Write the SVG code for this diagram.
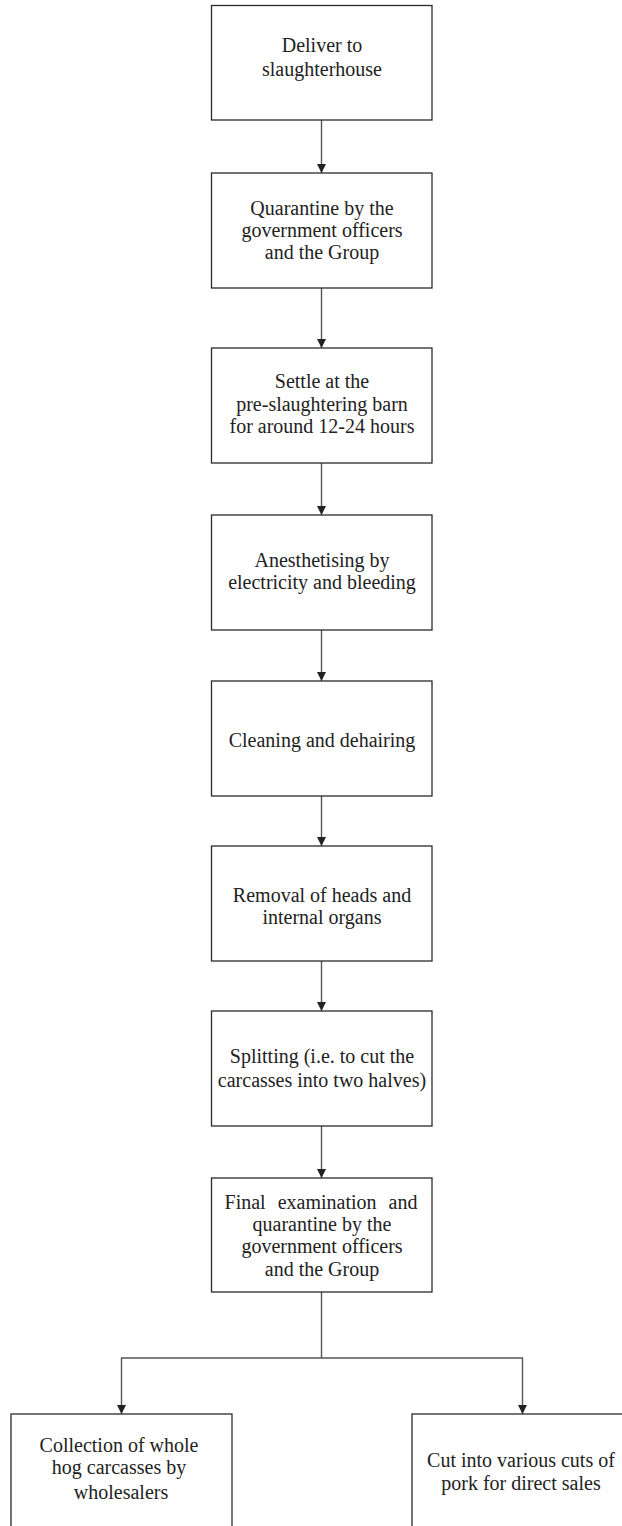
<svg xmlns="http://www.w3.org/2000/svg" width="622" height="1526" viewBox="0 0 622 1526">
<style>
.box{fill:#fff;stroke:#2a2a2a;stroke-width:1.3}
.t{font-family:"Liberation Serif","Times New Roman",serif;font-size:20px;fill:#222;text-anchor:middle}
.c{fill:none;stroke:#555;stroke-width:1.4}
</style>
<defs>
<marker id="ah" markerUnits="userSpaceOnUse" markerWidth="10" markerHeight="10" refX="9" refY="5" orient="auto">
<path d="M0,0.5 L9,5 L0,9.5 z" fill="#222"/>
</marker>
</defs>
<rect width="622" height="1526" fill="#fff"/>
<g id="connectors">
<line class="c" x1="321.5" y1="120" x2="321.5" y2="173" marker-end="url(#ah)"/>
<line class="c" x1="321.5" y1="288" x2="321.5" y2="348" marker-end="url(#ah)"/>
<line class="c" x1="321.5" y1="463" x2="321.5" y2="515" marker-end="url(#ah)"/>
<line class="c" x1="321.5" y1="630" x2="321.5" y2="681" marker-end="url(#ah)"/>
<line class="c" x1="321.5" y1="796" x2="321.5" y2="846" marker-end="url(#ah)"/>
<line class="c" x1="321.5" y1="961" x2="321.5" y2="1011" marker-end="url(#ah)"/>
<line class="c" x1="321.5" y1="1126" x2="321.5" y2="1178" marker-end="url(#ah)"/>
<line class="c" x1="321.5" y1="1292" x2="321.5" y2="1358"/>
<polyline class="c" points="321.5,1358 121.5,1358 121.5,1414" marker-end="url(#ah)"/>
<polyline class="c" points="321.5,1358 522.5,1358 522.5,1414" marker-end="url(#ah)"/>
</g>
<g id="n1"><rect class="box" x="211.5" y="5.5" width="220.5" height="114.5"/>
<text class="t" x="322" y="52">Deliver to</text><text class="t" x="322" y="76">slaughterhouse</text></g>
<g id="n2"><rect class="box" x="211.5" y="173" width="220.5" height="115"/>
<text class="t" x="322" y="215">Quarantine by the</text><text class="t" x="322" y="237">government officers</text><text class="t" x="322" y="259">and the Group</text></g>
<g id="n3"><rect class="box" x="211.5" y="348" width="220.5" height="115"/>
<text class="t" x="322" y="388">Settle at the</text><text class="t" x="322" y="411">pre-slaughtering barn</text><text class="t" x="322" y="433">for around 12-24 hours</text></g>
<g id="n4"><rect class="box" x="211.5" y="515" width="220.5" height="115"/>
<text class="t" x="322" y="567">Anesthetising by</text><text class="t" x="322" y="589">electricity and bleeding</text></g>
<g id="n5"><rect class="box" x="211.5" y="681" width="220.5" height="115"/>
<text class="t" x="322" y="747">Cleaning and dehairing</text></g>
<g id="n6"><rect class="box" x="211.5" y="846" width="220.5" height="115"/>
<text class="t" x="322" y="902">Removal of heads and</text><text class="t" x="322" y="924">internal organs</text></g>
<g id="n7"><rect class="box" x="211.5" y="1011" width="220.5" height="115"/>
<text class="t" x="322" y="1063">Splitting (i.e. to cut the</text><text class="t" x="322" y="1087">carcasses into two halves)</text></g>
<g id="n8"><rect class="box" x="211.5" y="1178" width="220.5" height="114"/>
<text class="t" x="321" y="1209" word-spacing="7">Final examination and</text><text class="t" x="322" y="1231">quarantine by the</text><text class="t" x="322" y="1253">government officers</text><text class="t" x="322" y="1276">and the Group</text></g>
<g id="n9"><rect class="box" x="11" y="1414" width="221" height="140"/>
<text class="t" x="119" y="1452">Collection of whole</text><text class="t" x="119" y="1474">hog carcasses by</text><text class="t" x="121" y="1499">wholesalers</text></g>
<g id="n10"><rect class="box" x="412" y="1414" width="240" height="140"/>
<text class="t" x="521" y="1467">Cut into various cuts of</text><text class="t" x="521" y="1490">pork for direct sales</text></g>
</svg>
